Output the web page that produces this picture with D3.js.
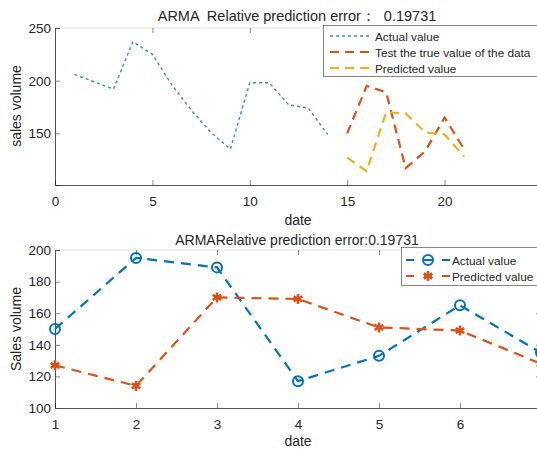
<!DOCTYPE html>
<html>
<head>
<meta charset="utf-8">
<script src="https://cdn.jsdelivr.net/npm/d3@7"></script>
<style>
  body { margin: 0; background: #fff; }
  text { font-family: "Liberation Sans", Arial, sans-serif; fill: #262626; }
</style>
</head>
<body>
<div id="root"></div>
<script>
var W = 537, H = 451;

// top chart: history + test split
var histDays = [1, 2, 3, 4, 5, 6, 7, 8, 9, 10, 11, 12, 13, 14];
var histValues = [206, 199, 192, 237, 225, 196, 172, 151, 135, 198, 198, 177, 174, 149];
var testDays = [15, 16, 17, 18, 19, 20, 21];
// bottom chart uses the same test window, indexed 1..7
var testIndex = [1, 2, 3, 4, 5, 6, 7];
var testTrue = [150, 195, 189, 117, 133, 165, 135];
var predicted = [127, 114, 170, 169, 151, 149, 128];

var topXTicks = [0, 5, 10, 15, 20];
var topYTicks = [150, 200, 250];
var botXTicks = [1, 2, 3, 4, 5, 6];
var botYTicks = [100, 120, 140, 160, 180, 200];

var blue = '#0072BD', orange = '#D95319', yellow = '#EDB120';

var svg = d3.select('#root').append('svg').attr('width', W).attr('height', H);
svg.append('rect').attr('width', W).attr('height', H).attr('fill', '#fff');

function drawAxes(box, x, y, xt, yt) {
    var g = svg.append('g');
    g.append('line').attr('x1', box.l).attr('x2', box.r).attr('y1', box.t).attr('y2', box.t)
        .attr('stroke', '#cfcfcf').attr('stroke-width', 0.6);
    var ax = [
        d3.axisBottom(x).tickValues(xt).tickSize(-5).tickPadding(11).tickFormat(d3.format('d')),
        d3.axisLeft(y).tickValues(yt).tickSize(-5).tickPadding(4).tickFormat(d3.format('d')),
        d3.axisTop(x).tickValues(xt).tickSize(-5).tickFormat(''),
        d3.axisRight(y).tickValues(yt).tickSize(-5).tickFormat('')
    ];
    var pos = ['translate(0,' + box.b + ')', 'translate(' + box.l + ',0)',
               'translate(0,' + box.t + ')', 'translate(' + box.r + ',0)'];
    ax.forEach(function (a, i) {
        var s = g.append('g').attr('transform', pos[i]).call(a);
        s.selectAll('.tick line').attr('stroke', '#555').attr('stroke-width', 0.7);
        s.select('.domain').attr('stroke', i < 2 ? '#262626' : 'none').attr('stroke-width', 0.8);
        s.selectAll('text').attr('font-size', 13.5).attr('fill', '#262626')
            .style('font-family', '"Liberation Sans", Arial, sans-serif');
    });
}

function addLine(xs, ys, x, y, color, w, dash) {
    var pts = xs.map(function (d, i) { return [x(d), y(ys[i])]; });
    svg.append('path').attr('d', d3.line()(pts)).attr('fill', 'none')
        .attr('stroke', color).attr('stroke-width', w).attr('stroke-dasharray', dash);
    return pts;
}

// ---------- top chart ----------
var tb = { l: 55, r: 542, t: 28, b: 185 };
var tx = d3.scaleLinear().domain([0, 25]).range([tb.l, tb.r]);
var ty = d3.scaleLinear().domain([101, 250]).range([tb.b, tb.t]);
drawAxes(tb, tx, ty, topXTicks, topYTicks);

addLine(histDays, histValues, tx, ty, '#3f8bc0', 1.4, '3,3');
addLine(testDays, testTrue, tx, ty, orange, 2.2, '9,6');
addLine(testDays, predicted, tx, ty, yellow, 2.2, '9,6');

svg.append('text').attr('x', 297).attr('y', 21).attr('text-anchor', 'middle')
    .style('white-space', 'pre')
    .attr('font-size', 14.5).text('ARMA  Relative prediction error：  0.19731');
svg.append('text').attr('x', 298).attr('y', 225).attr('text-anchor', 'middle')
    .attr('font-size', 14).text('date');
svg.append('text').attr('transform', 'translate(21,106) rotate(-90)').attr('text-anchor', 'middle')
    .attr('font-size', 14).text('sales volume');

var tLeg = svg.append('g');
tLeg.append('rect').attr('x', 323.5).attr('y', 25.5).attr('width', 230).attr('height', 51)
    .attr('fill', '#fff').attr('stroke', '#555').attr('stroke-width', 0.7);
var tItems = [['Actual value', '#3f8bc0', 1.4, '3,3'],
              ['Test the true value of the data', orange, 2.2, '9,6'],
              ['Predicted value', yellow, 2.2, '9,6']];
tItems.forEach(function (d, i) {
    var yy = 36 + i * 16;
    tLeg.append('line').attr('x1', 330).attr('x2', 372).attr('y1', yy).attr('y2', yy)
        .attr('stroke', d[1]).attr('stroke-width', d[2]).attr('stroke-dasharray', d[3]);
    tLeg.append('text').attr('x', 375).attr('y', yy + 4.5).attr('font-size', 11.8).text(d[0]);
});

// ---------- bottom chart ----------
var bb = { l: 55, r: 541, t: 250, b: 408 };
var bx = d3.scaleLinear().domain([1, 7]).range([bb.l, bb.r]);
var by = d3.scaleLinear().domain([100, 200]).range([bb.b, bb.t]);
drawAxes(bb, bx, by, botXTicks, botYTicks);

var star = d3.symbol().type(d3.symbolAsterisk).size(70);
var pA = addLine(testIndex, testTrue, bx, by, blue, 2.2, '10,7');
var pP = addLine(testIndex, predicted, bx, by, orange, 2.2, '10,7');
svg.append('g').selectAll('circle').data(pA).enter().append('circle')
    .attr('cx', function (d) { return d[0]; }).attr('cy', function (d) { return d[1]; })
    .attr('r', 5).attr('fill', 'none').attr('stroke', blue).attr('stroke-width', 2);
svg.append('g').selectAll('path').data(pP).enter().append('path')
    .attr('transform', function (d) { return 'translate(' + d[0] + ',' + d[1] + ')'; })
    .attr('d', star).attr('fill', orange).attr('stroke', orange).attr('stroke-width', 2.6);

svg.append('text').attr('x', 297).attr('y', 245).attr('text-anchor', 'middle')
    .attr('font-size', 14).text('ARMARelative prediction error:0.19731');
svg.append('text').attr('x', 298).attr('y', 446).attr('text-anchor', 'middle')
    .attr('font-size', 14).text('date');
svg.append('text').attr('transform', 'translate(21,329) rotate(-90)').attr('text-anchor', 'middle')
    .attr('font-size', 14).text('Sales volume');

var bLeg = svg.append('g');
bLeg.append('rect').attr('x', 401.5).attr('y', 247.5).attr('width', 150).attr('height', 38)
    .attr('fill', '#fff').attr('stroke', '#555').attr('stroke-width', 0.7);
[['Actual value', blue, 'o'], ['Predicted value', orange, '*']].forEach(function (d, i) {
    var yy = 260 + i * 16;
    bLeg.append('line').attr('x1', 406).attr('x2', 450).attr('y1', yy).attr('y2', yy)
        .attr('stroke', d[1]).attr('stroke-width', 2.2).attr('stroke-dasharray', '8,10');
    if (d[2] === 'o') {
        bLeg.append('circle').attr('cx', 428).attr('cy', yy).attr('r', 5)
            .attr('fill', 'none').attr('stroke', d[1]).attr('stroke-width', 2);
    } else {
        bLeg.append('path').attr('transform', 'translate(428,' + yy + ')').attr('d', star)
            .attr('fill', d[1]).attr('stroke', d[1]).attr('stroke-width', 2.6);
    }
    bLeg.append('text').attr('x', 452).attr('y', yy + 4.5).attr('font-size', 11.8).text(d[0]);
});
</script>
</body>
</html>
